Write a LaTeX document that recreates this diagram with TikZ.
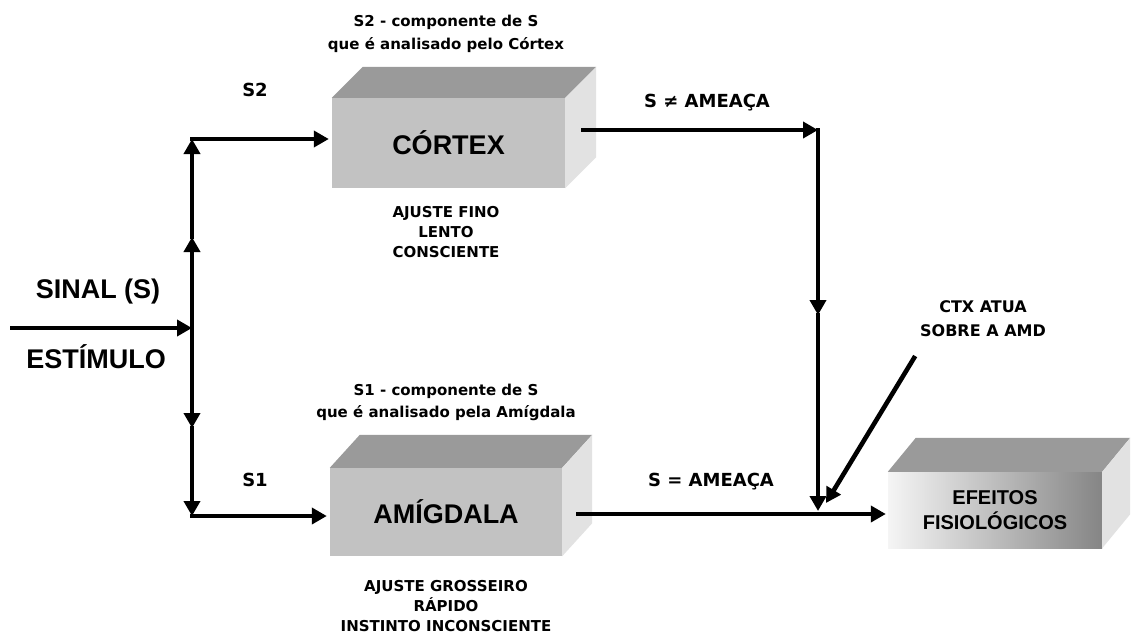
\documentclass[tikz,border=0pt]{standalone}
\usepackage{fontspec}
\setmainfont{Liberation Sans}
\newfontfamily\labelfont{DejaVu Sans}
\usetikzlibrary{arrows.meta}
\definecolor{boxtop}{HTML}{9A9A9A}
\definecolor{boxfront}{HTML}{C2C2C2}
\definecolor{boxside}{HTML}{E2E2E2}
\definecolor{boxdark}{HTML}{858585}

% front face as a node, top and side faces drawn from its anchors
\newcommand{\boxfaces}[3]{%
  \fill[boxtop] (#1.north west) -- ++(#2,#3) -- ([shift={(#2,#3)}]#1.north east) -- (#1.north east) -- cycle;
  \fill[boxside] (#1.north east) -- ++(#2,#3) -- ([shift={(#2,#3)}]#1.south east) -- (#1.south east) -- cycle;
}

\begin{document}
\begin{tikzpicture}[x=1pt,y=-1pt,
  flow/.style={line width=4.6pt, line cap=rect, -{Triangle[length=15pt,width=16pt]}},
  front/.style={fill=boxfront, inner sep=0pt},
  caption/.style={font=\labelfont\bfseries\fontsize{15}{20}\selectfont, align=center},
  tag/.style={font=\labelfont\bfseries\fontsize{18}{22}\selectfont},
  big/.style={font=\bfseries\fontsize{27}{30}\selectfont}]
\useasboundingbox (0,0) rectangle (1131,635);
\fill[white] (0,0) rectangle (1131,635);

% blocks
\node[front, minimum width=233, minimum height=90] (cortex) at (448.5,143) {\phantom{X}};
\boxfaces{cortex}{31}{-31}
\node[big] (cortexlbl) at (cortex.center) {CÓRTEX};

\node[front, minimum width=232, minimum height=88] (amig) at (446,512) {\phantom{X}};
\boxfaces{amig}{30}{-33}
\node[big] (amiglbl) at (amig.center) {AMÍGDALA};

\node[inner sep=0pt, minimum width=214, minimum height=76,
      left color=white!96!black, right color=boxdark] (efe) at (995,510) {\phantom{X}};
\boxfaces{efe}{28}{-34}
\node[font=\bfseries\fontsize{20}{25}\selectfont, align=center] (efelbl) at (efe.center) {EFEITOS\\FISIOLÓGICOS};

% texts
\node[font=\labelfont\bfseries\fontsize{15}{23}\selectfont, align=center] (t2) at (446,34) {S2 - componente de S\\que é analisado pelo Córtex};
\node[font=\labelfont\bfseries\fontsize{15}{22}\selectfont, align=center] (t1) at (446,402) {S1 - componente de S\\que é analisado pela Amígdala};
\node[caption] (c2txt) at (446,232) {AJUSTE FINO\\LENTO\\CONSCIENTE};
\node[caption] (c1txt) at (446,606) {AJUSTE GROSSEIRO\\RÁPIDO\\INSTINTO INCONSCIENTE};
\node[tag] (s2) at (255,90) {S2};
\node[tag] (s1) at (255,480) {S1};
\node[tag] (neq) at (707,103) {S ≠ AMEAÇA};
\node[tag] (eq) at (711,482) {S = AMEAÇA};
\node[font=\labelfont\bfseries\fontsize{16}{24}\selectfont, align=center] (ctx) at (983,319) {CTX ATUA\\SOBRE A AMD};
\node[big] (sinal) at (98,292) {SINAL (S)};
\node[big] (estim) at (96,357) {ESTÍMULO};

% connector points
\coordinate (in) at (12,328);
\coordinate (j) at (192,328);
\coordinate (up1) at (192,237);
\coordinate (up2) at (192,139);
\coordinate (dn1) at (192,428);
\coordinate (dn2) at (192,516);
\coordinate (cout) at (583,130);
\coordinate (k) at (818,130);
\coordinate (km) at (818,315);
\coordinate (jn) at (818,511);
\coordinate (aout) at (578,514);
\coordinate (ds) at (914,358);
\coordinate (de) at (826,503);

% connectors
\draw[flow] (in) -- (j);
\draw[flow] (j) -- (up1);
\draw[flow] (up1) -- (up2);
\draw[flow, shorten >=3pt] (up2) -- (up2 -| cortex.west);
\draw[flow] (j) -- (dn1);
\draw[flow] (dn1) -- (dn2);
\draw[flow, shorten >=3pt] (dn2) -- (dn2 -| amig.west);
\draw[flow] (cout) -- (k);
\draw[flow] (k) -- (km);
\draw[flow] (km) -- (jn);
\draw[flow, shorten >=2pt] (aout) -- (aout -| efe.west);
\draw[flow] (ds) -- (de);
\end{tikzpicture}
\end{document}
